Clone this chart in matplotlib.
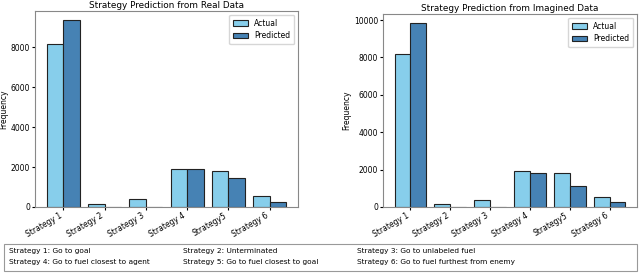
import numpy as np
import matplotlib.pyplot as plt
from matplotlib.patches import Rectangle

strategies = ['Strategy 1', 'Strategy 2', 'Strategy 3', 'Strategy 4', 'Strategy5', 'Strategy 6']
actual = [8160, 175, 400, 1900, 1800, 530]
pred_real = [9360, 20, 0, 1895, 1430, 250]
pred_imag = [9830, 10, 0, 1795, 1145, 265]

captions = [
    ['Strategy 1: Go to goal', 'Strategy 4: Go to fuel closest to agent'],
    ['Strategy 2: Unterminated', 'Strategy 5: Go to fuel closest to goal'],
    ['Strategy 3: Go to unlabeled fuel', 'Strategy 6: Go to fuel furthest from enemy'],
]

fig = plt.figure(figsize=(6.4, 2.75), dpi=100)
ax1 = fig.add_axes([35/640, 1 - 207/275, 263/640, 196/275])
ax2 = fig.add_axes([383/640, 1 - 207/275, 254/640, 193/275])

x = np.arange(len(strategies))
w = 0.4

for ax, pred, title in [(ax1, pred_real, 'Strategy Prediction from Real Data'),
                        (ax2, pred_imag, 'Strategy Prediction from Imagined Data')]:
    ax.bar(x - w/2, actual, w, color='skyblue', edgecolor='#222222', linewidth=0.8, label='Actual')
    ax.bar(x + w/2, pred, w, color='steelblue', edgecolor='#222222', linewidth=0.8, label='Predicted')
    ax.set_xticks(x)
    ax.set_xticklabels(strategies, rotation=30, ha='right', fontsize=5.5)
    ax.tick_params(axis='y', labelsize=5.5, length=2, pad=1.5)
    ax.tick_params(axis='x', length=2, pad=1)
    ax.set_ylabel('Frequency', fontsize=5.5, labelpad=2)
    ax.set_title(title, fontsize=6.4, pad=2)
    for s in ax.spines.values():
        s.set_color('#888888')
    ax.legend(fontsize=5.5, loc='upper right', handlelength=2.0, borderpad=0.5)

ax1.set_yticks([0, 2000, 4000, 6000, 8000])
ax2.set_yticks([0, 2000, 4000, 6000, 8000, 10000])

fig.patches.append(Rectangle((4/640, 1 - 271/275), 633/640, 27/275, transform=fig.transFigure,
                             fill=False, edgecolor='#999999', linewidth=0.8))
col_x = [9/640, 183/640, 357/640]
for cx, lines in zip(col_x, captions):
    fig.text(cx, 1 - 251/275, lines[0], fontsize=5.3, va='center', ha='left')
    fig.text(cx, 1 - 262/275, lines[1], fontsize=5.3, va='center', ha='left')

fig.savefig('out.png', dpi=100)
